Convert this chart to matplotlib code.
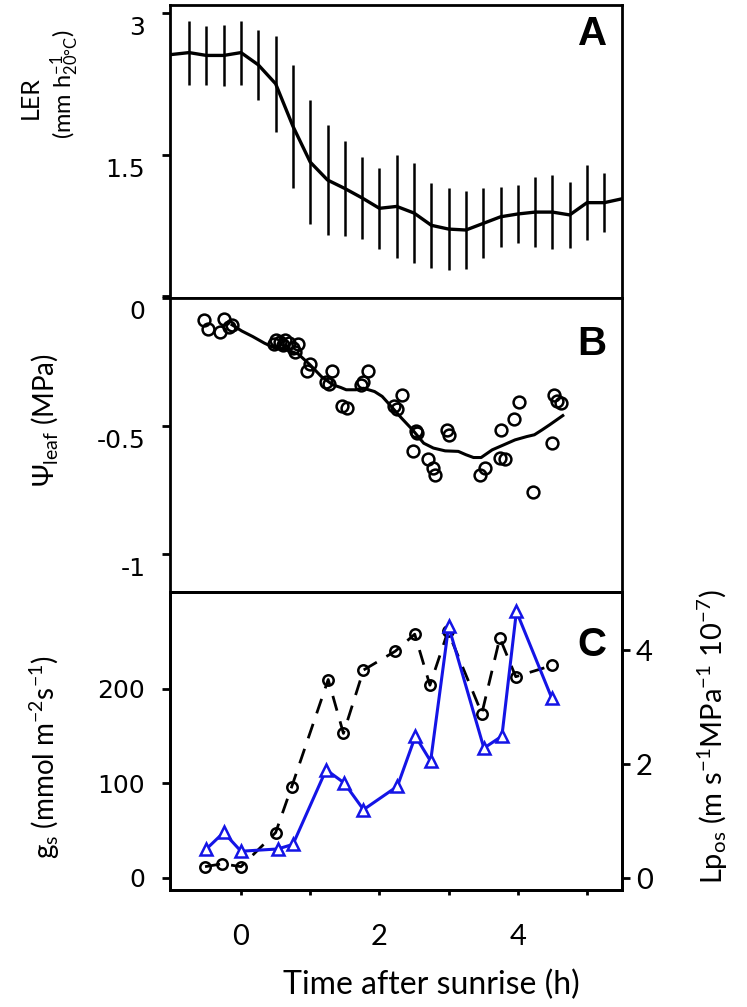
import matplotlib
matplotlib.use("Agg")
import matplotlib.pyplot as plt
import matplotlib.transforms as mtransforms
import numpy as np

plt.rcParams['font.family'] = ['Lato', 'DejaVu Sans']
plt.rcParams['mathtext.default'] = 'regular'

# panel A: leaf elongation rate (mean line + error bars)
ler_time = [-1.0, -0.75, -0.5, -0.25, 0.0, 0.25, 0.5, 0.75, 1.0, 1.25, 1.5, 1.75, 2.0, 2.25,
            2.5, 2.75, 3.0, 3.25, 3.5, 3.75, 4.0, 4.25, 4.5, 4.75, 5.0, 5.25, 5.5]
ler_mean = [2.56, 2.58, 2.55, 2.55, 2.58, 2.45, 2.25, 1.80, 1.42, 1.23, 1.14, 1.04, 0.93, 0.95,
            0.88, 0.75, 0.71, 0.70, 0.77, 0.84, 0.87, 0.89, 0.89, 0.86, 0.99, 0.99, 1.03]
ler_err = [0.0, 0.34, 0.31, 0.32, 0.34, 0.37, 0.51, 0.65, 0.66, 0.58, 0.50, 0.43, 0.43, 0.55,
           0.53, 0.45, 0.43, 0.41, 0.37, 0.32, 0.31, 0.37, 0.39, 0.35, 0.40, 0.31, 0.0]

# panel B: leaf water potential, measured points and running mean
psi_time = [-0.54, -0.48, -0.25, -0.30, -0.17, -0.13, 0.50, 0.47, 0.56, 0.64, 0.61, 0.69, 0.75,
            0.78, 0.83, 1.00, 0.95, 1.32, 1.23, 1.27, 1.46, 1.53, 1.74, 1.77, 1.83, 2.33, 2.21,
            2.26, 2.53, 2.55, 2.48, 2.70, 2.78, 2.81, 2.97, 3.01, 3.45, 3.53, 3.74, 3.81, 3.76,
            3.95, 4.02, 4.22, 4.49, 4.52, 4.56, 4.63]
psi_vals = [-0.086, -0.122, -0.083, -0.132, -0.112, -0.105, -0.164, -0.181, -0.171, -0.164,
            -0.184, -0.177, -0.197, -0.210, -0.181, -0.258, -0.285, -0.285, -0.329, -0.337,
            -0.422, -0.431, -0.340, -0.329, -0.284, -0.379, -0.422, -0.434, -0.522, -0.529,
            -0.600, -0.629, -0.665, -0.691, -0.516, -0.535, -0.691, -0.665, -0.624, -0.629,
            -0.518, -0.474, -0.405, -0.759, -0.568, -0.379, -0.402, -0.411]
psi_fit_time = [-0.13, 0.01, 0.17, 0.34, 0.50, 0.67, 0.83, 1.00, 1.16, 1.33, 1.44, 1.52, 1.66,
                1.77, 1.93, 2.04, 2.15, 2.32, 2.48, 2.64, 2.78, 2.95, 3.14, 3.25, 3.36, 3.47,
                3.63, 3.80, 3.96, 4.13, 4.24, 4.35, 4.46, 4.65]
psi_fit = [-0.105, -0.129, -0.151, -0.177, -0.197, -0.203, -0.220, -0.262, -0.307, -0.340,
           -0.350, -0.359, -0.359, -0.353, -0.366, -0.385, -0.418, -0.470, -0.516, -0.568,
           -0.587, -0.598, -0.600, -0.613, -0.624, -0.624, -0.594, -0.574, -0.555, -0.542,
           -0.535, -0.516, -0.496, -0.460]

# panel C: stomatal conductance (left) and Lpos (right)
gs_time = [-0.52, -0.27, 0.0, 0.50, 0.73, 1.26, 1.48, 1.77, 2.23, 2.51, 2.73, 2.99, 3.48, 3.74, 3.97, 4.50]
gs_vals = [12, 15, 12, 48, 96, 210, 153, 220, 240, 258, 204, 261, 174, 254, 213, 225]
lp_time = [-0.50, -0.25, 0.0, 0.53, 0.75, 1.23, 1.49, 1.77, 2.26, 2.52, 2.74, 3.0, 3.51, 3.77, 3.98, 4.49]
lp_vals = [0.51, 0.80, 0.47, 0.51, 0.59, 1.90, 1.67, 1.20, 1.61, 2.49, 2.05, 4.42, 2.28, 2.49, 4.68, 3.16]

fig = plt.figure(figsize=(7.47, 10.07), dpi=100)
left, width = 0.2276, 0.6051
axA = fig.add_axes([left, 0.7041, width, 0.2910])
axB = fig.add_axes([left, 0.4121, width, 0.2920])
axC = fig.add_axes([left, 0.1162, width, 0.2959])

label_drop = mtransforms.ScaledTranslation(0, -0.13, fig.dpi_scale_trans)

for ax in (axA, axB, axC):
    for s in ax.spines.values():
        s.set_linewidth(2.0)
    ax.set_xlim(-1.026, 5.506)
    ax.set_xticks([0, 1, 2, 3, 4, 5])
    ax.tick_params(axis='x', direction='out', length=3.6, width=2, labelbottom=False)
    ax.tick_params(axis='y', direction='out', length=5.8, width=2, pad=12)

# A
axA.errorbar(ler_time, ler_mean, yerr=ler_err, fmt='none', ecolor='k', elinewidth=1.8, capsize=0)
axA.plot(ler_time, ler_mean, color='k', lw=2.4)
axA.set_ylim(-0.02, 3.085)
axA.set_yticks([0, 1.5, 3], labels=['0', '1.5', '3'], fontfamily='DejaVu Sans', fontsize=18)
axA.text(0.934, 0.90, 'A', transform=axA.transAxes, ha='center', va='center',
         fontsize=29, fontweight='bold', fontfamily='Liberation Sans')

# B
axB.plot(psi_fit_time, psi_fit, color='k', lw=2.2)
axB.plot(psi_time, psi_vals, 'o', mfc='none', mec='k', ms=8.5, mew=1.8)
axB.set_ylim(-1.15, 0)
axB.set_yticks([-1, -0.5, 0], labels=['-1', '-0.5', ''], fontfamily='DejaVu Sans', fontsize=18)
axB.text(0.934, 0.845, 'B', transform=axB.transAxes, ha='center', va='center',
         fontsize=29, fontweight='bold', fontfamily='Liberation Sans')

for ax in (axA, axB):
    for lab in ax.get_yticklabels():
        lab.set_transform(lab.get_transform() + label_drop)

# C
axC.plot(gs_time, gs_vals, color='k', lw=2.0, dashes=(5.5, 4), marker='o',
         mfc='none', mec='k', ms=7.5, mew=1.8)
axC.set_ylim(-12.7, 302.6)
axC.set_yticks([0, 100, 200], labels=['0', '100', '200'], fontfamily='DejaVu Sans', fontsize=18)
axC.set_xticks([0, 1, 2, 3, 4, 5], labels=['0', '', '2', '', '4', ''])
axC.tick_params(axis='x', labelbottom=True, labelsize=21, pad=21)
axC.text(0.934, 0.822, 'C', transform=axC.transAxes, ha='center', va='center',
         fontsize=29, fontweight='bold', fontfamily='Liberation Sans')

axR = axC.twinx()
axR.plot(lp_time, lp_vals, color='#1414e6', lw=2.2, marker='^', mfc='white',
         mec='#1414e6', ms=9, mew=1.8)
axR.set_ylim(-0.21, 5.02)
axR.set_yticks([0, 2, 4])
axR.tick_params(axis='y', direction='out', length=5.8, width=2, labelsize=21, pad=4)
for s in axR.spines.values():
    s.set_linewidth(2.0)

# axis titles
fig.text(0.041, 0.903, 'LER', rotation=90, ha='center', va='center', fontsize=18)
fig.text(0.086, 0.916, r'(mm h$^{-1}_{20°C}$)', rotation=90, ha='center', va='center', fontsize=17)
fig.text(0.060, 0.583, r'$Ψ_{leaf}$ (MPa)', rotation=90, ha='center', va='center', fontsize=20)
fig.text(0.060, 0.248, r'g$_s$ (mmol m$^{-2}$s$^{-1}$)', rotation=90, ha='center', va='center', fontsize=20)
fig.text(0.955, 0.268, r'Lp$_{os}$ (m s$^{-1}$MPa$^{-1}$ 10$^{-7}$)', rotation=90,
         ha='center', va='center', fontsize=21)
fig.text(0.577, 0.022, 'Time after sunrise (h)', ha='center', va='center', fontsize=23)

fig.savefig('out.png', dpi=100)
